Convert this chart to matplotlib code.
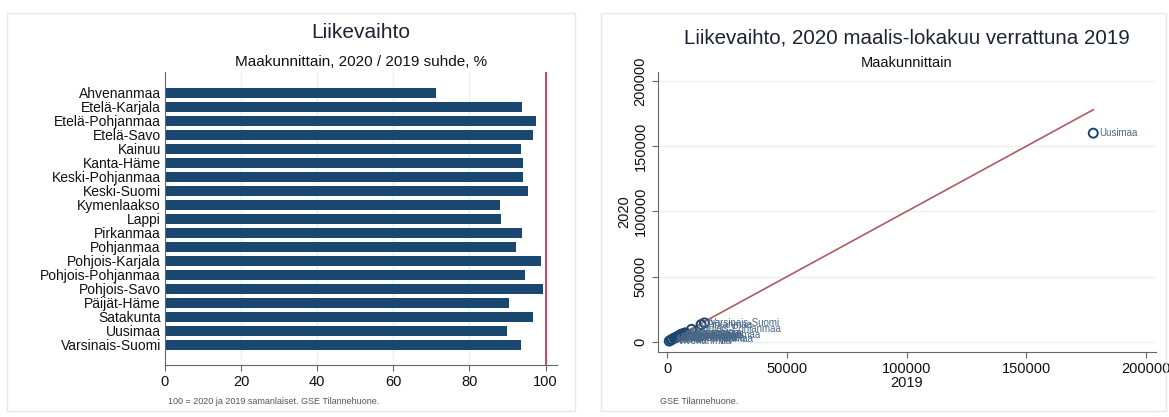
import numpy as np
import matplotlib.pyplot as plt
from matplotlib.patches import Rectangle

plt.rcParams['font.family'] = ['Liberation Sans', 'DejaVu Sans']

# maakunnat
regions = ['Ahvenanmaa', 'Etelä-Karjala', 'Etelä-Pohjanmaa', 'Etelä-Savo', 'Kainuu',
           'Kanta-Häme', 'Keski-Pohjanmaa', 'Keski-Suomi', 'Kymenlaakso', 'Lappi',
           'Pirkanmaa', 'Pohjanmaa', 'Pohjois-Karjala', 'Pohjois-Pohjanmaa',
           'Pohjois-Savo', 'Päijät-Häme', 'Satakunta', 'Uusimaa', 'Varsinais-Suomi']
# 2020 / 2019 suhde, %
ratio = [71.3, 93.8, 97.6, 96.8, 93.6, 94.1, 94.0, 95.3, 87.9, 88.3,
         93.8, 92.1, 98.8, 94.6, 99.2, 90.5, 96.8, 89.9, 93.6]
# liikevaihto 2019 (arvioitu kuvasta)
lv2019 = [900, 3600, 5600, 3100, 1600, 4200, 2100, 6800, 5400, 4600,
          14200, 7600, 3000, 10200, 5200, 4700, 6100, 178000, 15600]
lv2020 = [a * r / 100 for a, r in zip(lv2019, ratio)]

navy = '#1a476f'
grid_c = '#e9f1f3'
axis_c = '#666666'
title_c = '#1c2433'

fig = plt.figure(figsize=(11.69, 4.17), dpi=100)
W, H = 1169, 417

def fx(px):
    return px / W

def fy(py):
    return 1 - py / H

# panel frames
for x0, x1 in [(7, 575), (601, 1166)]:
    fig.patches.append(Rectangle((fx(x0), fy(411)), fx(x1 - x0), (411 - 13) / H,
                                 transform=fig.transFigure, fill=False,
                                 edgecolor='#e3eaee', lw=1))

# --- vasen: pylväät ---
ax1 = fig.add_axes([fx(165), fy(365), fx(557 - 165), (365 - 72) / H])
ypos = np.arange(len(regions))
ax1.barh(ypos, ratio, height=0.7, color=navy)
ax1.axvline(100, color='#c8233f', lw=1.2)
ax1.set_xlim(0, 103)
ax1.set_ylim(len(regions) + 0.45, -1.5)
ax1.set_yticks(ypos)
ax1.set_yticklabels(regions, fontsize=10, color='#111111')
ax1.tick_params(axis='y', length=0, pad=3)
ax1.set_xticks([0, 20, 40, 60, 80, 100])
ax1.tick_params(axis='x', length=4, color=axis_c, labelsize=10.5, labelcolor='#111111')
for v in [20, 40, 60, 80]:
    ax1.axvline(v, color=grid_c, lw=1, zorder=0)
for s in ['top', 'right']:
    ax1.spines[s].set_visible(False)
for s in ['left', 'bottom']:
    ax1.spines[s].set_color(axis_c)
ax1.set_axisbelow(True)

fig.text(fx(361), fy(33), 'Liikevaihto', fontsize=15, color=title_c, ha='center', va='center')
fig.text(fx(361), fy(62), 'Maakunnittain, 2020 / 2019 suhde, %', fontsize=11,
         color='#111111', ha='center', va='center')
fig.text(fx(168), fy(401), '100 = 2020 ja 2019 samanlaiset. GSE Tilannehuone.',
         fontsize=6.5, color='#555555', ha='left', va='center')

# --- oikea: hajonta ---
ax2 = fig.add_axes([fx(658), fy(352), fx(1156 - 658), (352 - 72) / H])
ax2.set_xlim(-3800, 204200)
ax2.set_ylim(-7700, 206900)
for v in [0, 50000, 100000, 150000, 200000]:
    ax2.axhline(v, color=grid_c, lw=1, zorder=0)
lo, hi = min(lv2019), max(lv2019)
ax2.plot([lo, hi], [lo, hi], color='#b05a60', lw=1.2, zorder=1)
ax2.scatter(lv2019, lv2020, s=42, facecolors='none', edgecolors=navy, lw=1.4, zorder=3)
for name, a, b in zip(regions, lv2019, lv2020):
    ax2.annotate(name, (a, b), xytext=(4, 0), textcoords='offset points',
                 fontsize=7, color='#4a6788', va='center', ha='left', zorder=4)
ax2.set_xticks([0, 50000, 100000, 150000, 200000])
ax2.set_yticks([0, 50000, 100000, 150000, 200000])
ax2.tick_params(axis='both', length=4, color=axis_c, labelsize=10.5, labelcolor='#111111')
for lab in ax2.get_yticklabels():
    lab.set_rotation(90)
    lab.set_va('center')
ax2.set_xlabel('2019', fontsize=10.5, color='#111111', labelpad=0)
ax2.set_ylabel('2020', fontsize=10.5, color='#111111', labelpad=2)
for s in ['top', 'right']:
    ax2.spines[s].set_visible(False)
for s in ['left', 'bottom']:
    ax2.spines[s].set_color(axis_c)

fig.text(fx(907), fy(38), 'Liikevaihto, 2020 maalis-lokakuu verrattuna 2019', fontsize=14.8,
         color=title_c, ha='center', va='center')
fig.text(fx(907), fy(63), 'Maakunnittain', fontsize=10.5, color='#111111',
         ha='center', va='center')
fig.text(fx(660), fy(402), 'GSE Tilannehuone.', fontsize=6.5, color='#555555',
         ha='left', va='center')

fig.savefig('out.png', dpi=100)
